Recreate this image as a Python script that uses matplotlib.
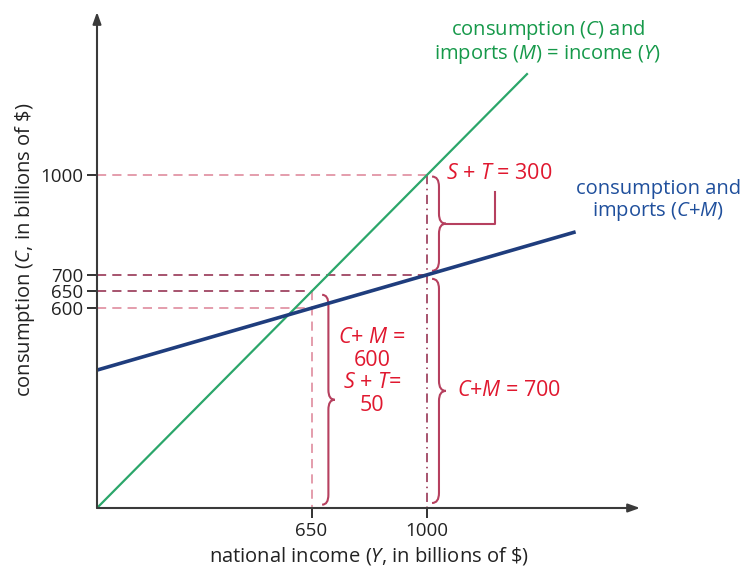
import matplotlib
matplotlib.use("Agg")
import matplotlib.pyplot as plt
from matplotlib.path import Path
from matplotlib.patches import PathPatch

plt.rcParams['font.family'] = ['Open Sans', 'DejaVu Sans']
plt.rcParams['mathtext.fontset'] = 'custom'
plt.rcParams['mathtext.rm'] = 'Open Sans'
plt.rcParams['mathtext.it'] = 'Open Sans:italic'

# data (billions of $)
income_line_x = [0, 1305]
income_line_y = [0, 1305]          # C + M = Y (45 degree line)
cm_x = [0, 650, 1000, 1450]
cm_y = [414, 600, 700, 829]        # consumption and imports C + M
y_ticks = [600, 650, 700, 1000]
x_ticks = [650, 1000]

GREEN = '#2ba66a'
GREEN_TXT = '#16994a'
BLUE = '#1f3d7d'
BLUE_TXT = '#1f4f9c'
RED_TXT = '#e0182f'
BRACE = '#b6405f'
DASH_LIGHT = '#dc8296'
DASH_DARK = '#8e2446'
AXIS = '#3a3a3a'

fig = plt.figure(figsize=(7.42, 5.68), dpi=100)
ax = fig.add_axes([97 / 742, 60 / 568, 543 / 742, 496 / 568])
ax.set_xlim(0, 1645)
ax.set_ylim(0, 1489)
for s in ax.spines.values():
    s.set_visible(False)

# axes with arrows
ax.annotate('', xy=(1, 0), xytext=(0, 0), xycoords='axes fraction',
            arrowprops=dict(arrowstyle='-|>,head_length=0.7,head_width=0.25',
                            color=AXIS, lw=1.5, shrinkA=0, shrinkB=0))
ax.annotate('', xy=(0, 1), xytext=(0, 0), xycoords='axes fraction',
            arrowprops=dict(arrowstyle='-|>,head_length=0.7,head_width=0.25',
                            color=AXIS, lw=1.5, shrinkA=0, shrinkB=0))

ax.set_xticks(x_ticks)
ax.set_yticks(y_ticks)
ax.tick_params(axis='both', direction='out', length=7, width=1.3, color='#222222',
               labelsize=13.5, labelcolor='#222222', pad=3)
ax.set_xlabel(r'national income ($\mathit{Y}$, in billions of \$)', fontsize=14.5,
              color='#222222', labelpad=4)
ax.set_ylabel(r'consumption ($\mathit{C}$, in billions of \$)', fontsize=14.5,
              color='#222222')
ax.yaxis.set_label_coords(-0.11, 0.52)

# dashed guide lines
ax.plot([0, 1000], [1000, 1000], color=DASH_LIGHT, lw=1.1, dashes=(6, 4))
ax.plot([1000, 1000], [1000, 0], color=DASH_DARK, lw=1.1, dashes=(6, 3, 1, 3))
ax.plot([0, 1000], [700, 700], color=DASH_DARK, lw=1.1, dashes=(6, 4))
ax.plot([0, 650], [650, 650], color=DASH_DARK, lw=1.1, dashes=(6, 4))
ax.plot([0, 650], [600, 600], color=DASH_LIGHT, lw=1.1, dashes=(6, 4))
ax.plot([650, 650], [650, 0], color=DASH_LIGHT, lw=1.1, dashes=(6, 4))

# main lines
ax.plot(income_line_x, income_line_y, color=GREEN, lw=1.6, solid_capstyle='butt')
ax.plot(cm_x, cm_y, color=BLUE, lw=2.6, solid_capstyle='butt')


def brace(x0, yb, yt, w, r):
    xm = x0 + w / 2
    ym = (yb + yt) / 2
    verts = [(x0, yt), (xm, yt), (xm, yt - r),
             (xm, ym + r),
             (xm, ym), (x0 + w, ym),
             (xm, ym), (xm, ym - r),
             (xm, yb + r),
             (xm, yb), (x0, yb)]
    codes = [Path.MOVETO, Path.CURVE3, Path.CURVE3,
             Path.LINETO,
             Path.CURVE3, Path.CURVE3,
             Path.CURVE3, Path.CURVE3,
             Path.LINETO,
             Path.CURVE3, Path.CURVE3]
    ax.add_patch(PathPatch(Path(verts, codes), fill=False, edgecolor=BRACE, lw=1.5))
    return x0 + w, ym


# S + T = 300 brace with leader
tx, ty = brace(1015, 712, 995, 42, 30)
ax.plot([tx, 1205, 1205], [ty, ty, 950], color=BRACE, lw=1.5)
ax.text(1058, 1003, r'$\mathit{S}$ + $\mathit{T}$ = 300', color=RED_TXT, fontsize=15.5,
        ha='left', va='center')

# C + M = 700 brace
tx, ty = brace(1015, 15, 688, 42, 30)
ax.text(tx + 33, ty, r'$\mathit{C}$+$\mathit{M}$ = 700', color=RED_TXT, fontsize=15.5,
        ha='left', va='center')

# C + M = 600, S + T = 50 brace
tx, ty = brace(682, 10, 640, 38, 30)
ax.text(833, 410, '$\\mathit{C}$+ $\\mathit{M}$ =\n600\n$\\mathit{S}$ + $\\mathit{T}$=\n50',
        color=RED_TXT, fontsize=15.5, ha='center', va='center', linespacing=1.1)

# line labels
ax.text(1365, 1400, 'consumption ($\\mathit{C}$) and\nimports ($\\mathit{M}$) = income ($\\mathit{Y}$)',
        color=GREEN_TXT, fontsize=14.5, ha='center', va='center', linespacing=1.05)
ax.text(1700, 922, 'consumption and\nimports ($\\mathit{C}$+$\\mathit{M}$)',
        color=BLUE_TXT, fontsize=14.5, ha='center', va='center', linespacing=1.05)

fig.savefig('out.png', dpi=100)
